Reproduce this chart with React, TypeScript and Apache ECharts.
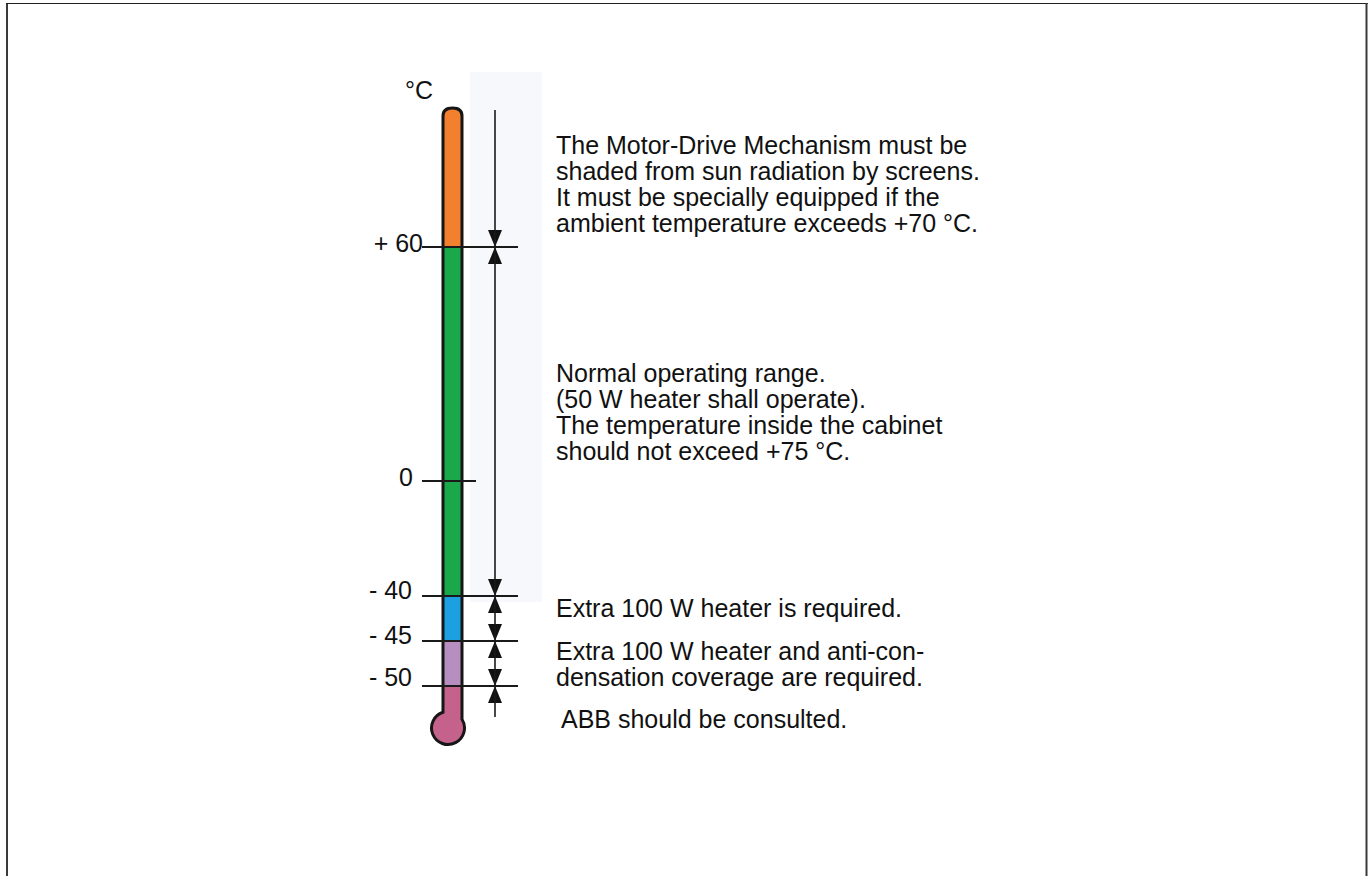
import React, { useEffect, useRef } from 'react';
import * as echarts from 'echarts';

const W = 1372;
const H = 876;

// ---- data ----
const unitLabel = '°C';
const thresholds = [60, 0, -40, -45, -50];
const thresholdLabels = ['+ 60', '0', '- 40', '- 45', '- 50'];
const thresholdHasArrows = [true, false, true, true, true];

// zones from top to bottom (null = end of tube / bulb)
const zoneUpper: (number | null)[] = [null, 60, -40, -45, -50];
const zoneLower: (number | null)[] = [60, -40, -45, -50, null];
const zoneColors = ['#F2802F', '#1BA84B', '#1DA0E2', '#B78EC0', '#C5628B'];
const zoneTexts = [
  ['The Motor-Drive Mechanism must be', 'shaded from sun radiation by screens.', 'It must be specially equipped if the', 'ambient temperature exceeds +70 °C.'],
  ['Normal operating range.', '(50 W heater shall operate).', 'The temperature inside the cabinet', 'should not exceed +75 °C.'],
  ['Extra 100 W heater is required.'],
  ['Extra 100 W heater and anti-con-', 'densation coverage are required.'],
  ['ABB should be consulted.'],
];

// ---- layout (schematic, non-linear scale) ----
const SCALE_Y = [247, 481, 596, 641, 686]; // vertical position of each threshold
const TUBE = { left: 443, right: 462, top: 108, r: 8 };
const BULB = { cx: 448, cy: 728, r: 16.5 };
const TICK = { left: 422, right: 518, shortRight: 476 };
const LABEL_RIGHT = [423, 413, 412, 412, 412];
const LABEL_DY = [-4, -4, -6, -6, -9];
const ARROW = { x: 495, top: 110, bottom: 717, w: 14, h: 17 };
const TEXT_POS = [
  { x: 556, y: 145, lh: 26 },
  { x: 556, y: 373, lh: 26 },
  { x: 556, y: 608, lh: 26 },
  { x: 556, y: 651, lh: 26 },
  { x: 561, y: 719, lh: 26 },
];
const FONT = '"Liberation Sans", Arial, Helvetica, sans-serif';
const FS = 25;

function tY(t: number): number {
  const i = thresholds.indexOf(t);
  return SCALE_Y[i];
}

export default function App() {
  const ref = useRef<HTMLDivElement>(null);
  useEffect(() => {
    if (!ref.current) return;
    const chart = echarts.init(ref.current, null, { renderer: 'svg' });

    const graphics: any[] = [
      // frame
      { type: 'line', shape: { x1: 7, y1: 3, x2: 7, y2: H + 5 }, style: { stroke: '#3a3a3a', lineWidth: 2 } },
      { type: 'line', shape: { x1: 6, y1: 3.5, x2: 1368, y2: 3.5 }, style: { stroke: '#222', lineWidth: 1 } },
      { type: 'line', shape: { x1: 1366.5, y1: 3, x2: 1366.5, y2: H + 5 }, style: { stroke: '#3a3a3a', lineWidth: 2 } },
      // faint scan shading
      { type: 'rect', z: -10, shape: { x: 470, y: 72, width: 72, height: 530 }, style: { fill: '#f6f8fc' } },
      // unit
      { type: 'text', x: 405, y: 90, style: { text: unitLabel, font: `${FS}px ${FONT}`, fill: '#111', verticalAlign: 'middle', align: 'left' } },
    ];
    zoneTexts.forEach((lines, i) => {
      const p = TEXT_POS[i];
      graphics.push({
        type: 'text', x: p.x, y: p.y - p.lh / 2,
        style: { text: lines.join('\n'), font: `${FS}px ${FONT}`, lineHeight: p.lh, fill: '#111', verticalAlign: 'top', align: 'left' },
      });
    });

    const outlinePath = (() => {
      const { left, right, top, r } = TUBE;
      const mid = (left + right) / 2;
      const dyR = Math.sqrt(BULB.r * BULB.r - (right - BULB.cx) ** 2);
      const dyL = Math.sqrt(BULB.r * BULB.r - (left - BULB.cx) ** 2);
      return `M${left},${top + r} Q${left},${top} ${mid},${top} Q${right},${top} ${right},${top + r} ` +
        `L${right},${BULB.cy - dyR} A${BULB.r},${BULB.r} 0 1 1 ${left},${BULB.cy - dyL} Z`;
    })();

    chart.setOption({
      animation: false,
      backgroundColor: '#ffffff',
      grid: { left: 0, right: 0, top: 0, bottom: 0 },
      xAxis: { type: 'value', min: 0, max: W, show: false },
      yAxis: { type: 'value', min: 0, max: H, inverse: true, show: false },
      graphic: graphics,
      series: [
        {
          type: 'custom', clip: false, z: 2,
          data: zoneColors.map((_, i) => [i]),
          renderItem: (params: any, api: any) => {
            const i = api.value(0);
            const u = zoneUpper[i];
            const l = zoneLower[i];
            const yTop = u == null ? TUBE.top : tY(u);
            const yBot = l == null ? BULB.cy : tY(l);
            const p1 = api.coord([TUBE.left, yTop]);
            const p2 = api.coord([TUBE.right, yBot]);
            const children: any[] = [{
              type: 'rect',
              shape: { x: p1[0], y: p1[1], width: p2[0] - p1[0], height: p2[1] - p1[1], r: u == null ? [TUBE.r, TUBE.r, 0, 0] : 0 },
              style: { fill: zoneColors[i] },
            }];
            if (l == null) {
              const c = api.coord([BULB.cx, BULB.cy]);
              children.push({ type: 'circle', shape: { cx: c[0], cy: c[1], r: BULB.r }, style: { fill: zoneColors[i] } });
            }
            return { type: 'group', children };
          },
        },
        {
          type: 'custom', clip: false, z: 3,
          data: [[0]],
          renderItem: () => ({
            type: 'path',
            shape: { pathData: outlinePath },
            style: { fill: 'none', stroke: '#161616', lineWidth: 3 },
          }),
        },
        {
          type: 'custom', clip: false, z: 4,
          data: thresholds.map((t, i) => [t, i]),
          renderItem: (params: any, api: any) => {
            const t = api.value(0);
            const i = api.value(1);
            const y = tY(t);
            const a = api.coord([TICK.left, y]);
            const b = api.coord([thresholdHasArrows[i] ? TICK.right : TICK.shortRight, y]);
            const lp = api.coord([LABEL_RIGHT[i], y + LABEL_DY[i]]);
            const children: any[] = [
              { type: 'line', shape: { x1: a[0], y1: a[1], x2: b[0], y2: b[1] }, style: { stroke: '#1a1a1a', lineWidth: 2 } },
              { type: 'text', x: lp[0], y: lp[1], style: { text: thresholdLabels[i], font: `${FS}px ${FONT}`, fill: '#111', align: 'right', verticalAlign: 'middle' } },
            ];
            if (thresholdHasArrows[i]) {
              const p = api.coord([ARROW.x, y]);
              const hw = ARROW.w / 2;
              children.push({ type: 'polygon', shape: { points: [[p[0] - hw, p[1] - ARROW.h], [p[0] + hw, p[1] - ARROW.h], [p[0], p[1]]] }, style: { fill: '#111' } });
              children.push({ type: 'polygon', shape: { points: [[p[0] - hw, p[1] + ARROW.h], [p[0] + hw, p[1] + ARROW.h], [p[0], p[1]]] }, style: { fill: '#111' } });
            }
            return { type: 'group', children };
          },
        },
        {
          type: 'custom', clip: false, z: 4,
          data: [[0]],
          renderItem: (params: any, api: any) => {
            const a = api.coord([ARROW.x, ARROW.top]);
            const b = api.coord([ARROW.x, ARROW.bottom]);
            return { type: 'line', shape: { x1: a[0], y1: a[1], x2: b[0], y2: b[1] }, style: { stroke: '#1a1a1a', lineWidth: 1.6 } };
          },
        },
      ],
    });
    return () => chart.dispose();
  }, []);
  return <div ref={ref} style={{ position: 'fixed', left: 0, top: 0, width: W, height: H }} />;
}
